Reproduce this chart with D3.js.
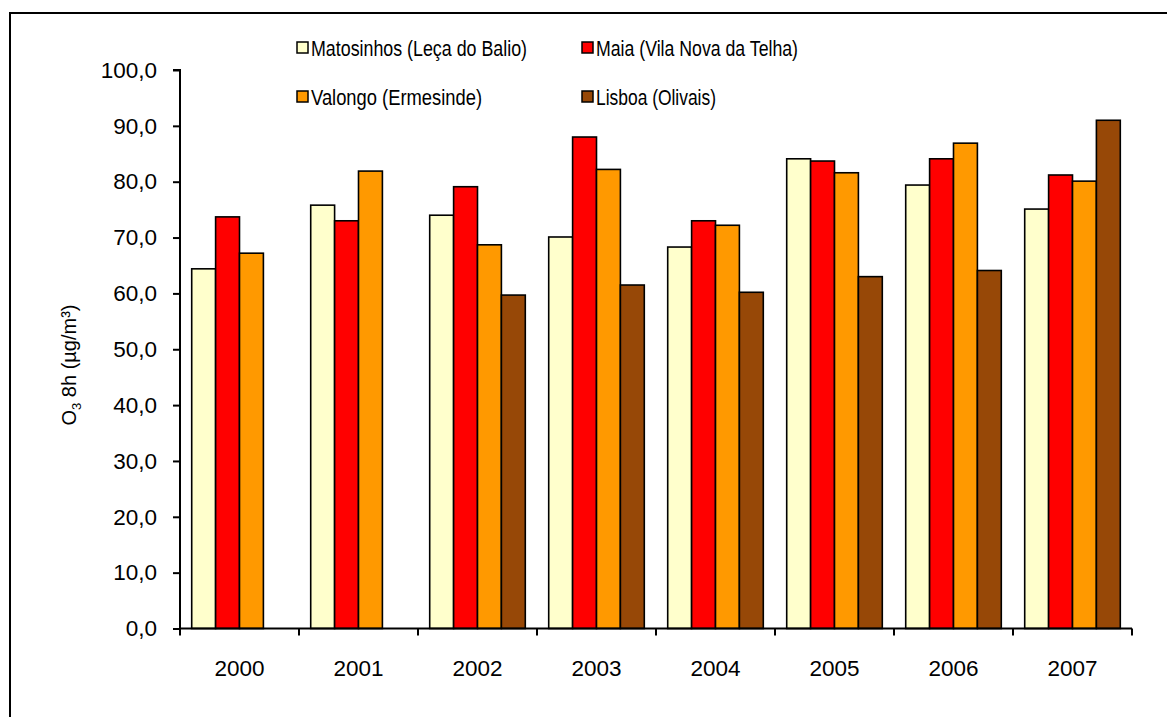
<!DOCTYPE html>
<html>
<head>
<meta charset="utf-8">
<script src="https://cdn.jsdelivr.net/npm/d3@7"></script>
<style>
  body { margin: 0; background: #fff; }
  svg { display: block; font-family: "Liberation Sans", Arial, sans-serif; }
</style>
</head>
<body>
<div id="chart"></div>
<script>
// data
var years = ["2000", "2001", "2002", "2003", "2004", "2005", "2006", "2007"];
var seriesNames = ["Matosinhos (Leça do Balio)", "Maia (Vila Nova da Telha)", "Valongo (Ermesinde)", "Lisboa (Olivais)"];
var matosinhos = [64.4, 75.8, 74.0, 70.1, 68.3, 84.1, 79.4, 75.1];
var maia       = [73.7, 73.0, 79.1, 88.0, 73.0, 83.7, 84.1, 81.2];
var valongo    = [67.2, 81.9, 68.7, 82.2, 72.2, 81.6, 86.9, 80.1];
var lisboa     = [null, null, 59.7, 61.5, 60.2, 63.0, 64.1, 91.0];
var yTicks = [0, 10, 20, 30, 40, 50, 60, 70, 80, 90, 100];

var colors = ["#FFFFCC", "#FF0000", "#FF9900", "#974807"];
var allSeries = [matosinhos, maia, valongo, lisboa];

var width = 1167, height = 717;
var svg = d3.select("#chart").append("svg")
    .attr("width", width)
    .attr("height", height);

// outer frame (runs off the right and bottom edge)
svg.append("rect")
    .attr("x", 10).attr("y", 13)
    .attr("width", 1200).attr("height", 800)
    .attr("fill", "none")
    .attr("stroke", "#000")
    .attr("stroke-width", 2);

var plotLeft = 180, plotRight = 1132, plotTop = 70, plotBottom = 628.5;

var x = d3.scaleBand().domain(years).range([plotLeft, plotRight]).paddingInner(0).paddingOuter(0);
var x1 = d3.scaleBand().domain(d3.range(4)).range([0, x.bandwidth()]).paddingOuter(0.49).paddingInner(0);
var y = d3.scaleLinear().domain([0, 100]).range([plotBottom, plotTop]);

// bars
var groups = svg.append("g").selectAll("g")
    .data(years)
    .join("g")
    .attr("transform", d => `translate(${x(d)},0)`);

groups.selectAll("rect")
    .data((yr, i) => allSeries.map((s, k) => ({k: k, v: s[i]})).filter(d => d.v != null))
    .join("rect")
    .attr("x", d => x1(d.k))
    .attr("width", x1.bandwidth())
    .attr("y", d => y(d.v))
    .attr("height", d => y(0) - y(d.v))
    .attr("fill", d => colors[d.k])
    .attr("stroke", "#000")
    .attr("stroke-width", 1.6);

// y axis
var yAxis = svg.append("g")
    .attr("transform", `translate(${plotLeft},0)`)
    .call(d3.axisLeft(y).tickValues(yTicks).tickSize(7).tickPadding(16)
        .tickFormat(d => d3.format(".1f")(d).replace(".", ",")));
yAxis.select(".domain").attr("stroke-width", 2).attr("d", `M-7,${plotTop}H0V${plotBottom}`);
yAxis.selectAll(".tick line").attr("stroke-width", 2);
yAxis.selectAll("text").attr("font-size", 22.5).attr("fill", "#000")
    .attr("font-family", "Liberation Sans, Arial, sans-serif");

// x axis
var xAxis = svg.append("g").attr("transform", `translate(0,${plotBottom})`);
xAxis.append("line")
    .attr("x1", plotLeft).attr("x2", plotRight)
    .attr("stroke", "#000").attr("stroke-width", 2);
xAxis.selectAll(".tk")
    .data(years.concat(["end"]))
    .join("line")
    .attr("x1", (d, i) => plotLeft + i * x.bandwidth())
    .attr("x2", (d, i) => plotLeft + i * x.bandwidth())
    .attr("y1", 0).attr("y2", 7)
    .attr("stroke", "#000").attr("stroke-width", 2);
xAxis.selectAll("text")
    .data(years)
    .join("text")
    .attr("x", d => x(d) + x.bandwidth() / 2)
    .attr("y", 47)
    .attr("text-anchor", "middle")
    .attr("font-size", 22.5)
    .text(d => d);

// y axis title
var yt = svg.append("text")
    .attr("transform", "translate(76,365) rotate(-90)")
    .attr("text-anchor", "middle")
    .attr("font-size", 20);
yt.append("tspan").text("O");
yt.append("tspan").attr("font-size", 13).attr("dy", 5).text("3");
yt.append("tspan").attr("dy", -5).text(" 8h (µg/m³)");

// legend
var legendPos = [[297, 48], [582, 48], [297, 97], [582, 97]];
var legendLen = [216, 202, 171, 120];
var legend = svg.append("g").selectAll("g")
    .data(seriesNames)
    .join("g")
    .attr("transform", (d, i) => `translate(${legendPos[i][0]},${legendPos[i][1]})`);
legend.append("rect")
    .attr("x", 0).attr("y", -6)
    .attr("width", 11).attr("height", 11)
    .attr("fill", (d, i) => colors[i])
    .attr("stroke", "#000").attr("stroke-width", 1.5);
legend.append("text")
    .attr("x", 14).attr("y", 8)
    .attr("font-size", 22)
    .attr("textLength", (d, i) => legendLen[i])
    .attr("lengthAdjust", "spacingAndGlyphs")
    .text(d => d);
</script>
</body>
</html>
